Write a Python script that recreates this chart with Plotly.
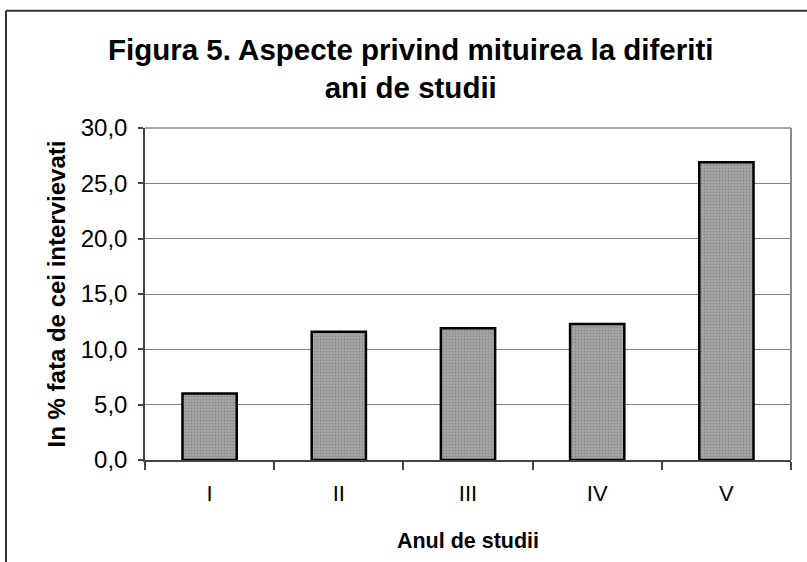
import plotly.graph_objects as go

categories = ["I", "II", "III", "IV", "V"]
values = [6.0, 11.6, 11.9, 12.3, 26.9]
y_ticks = [0, 5, 10, 15, 20, 25, 30]

title_text = "<b>Figura 5. Aspecte privind mituirea la diferiti<br>ani de studii</b>"
x_title = "<b>Anul de studii</b>"
y_title = "<b>In % fata de cei intervievati</b>"

FONT = "Liberation Sans, Arial, sans-serif"

fig = go.Figure()
fig.add_trace(go.Bar(
    x=categories, y=values, width=0.42,
    marker=dict(
        color="#a4a4a4",
        line=dict(color="black", width=2.5),
        pattern=dict(shape=".", fgcolor="#6a6a6a", bgcolor="#a8a8a8", size=3, solidity=0.35),
    ),
))

fig.update_layout(
    width=807, height=562,
    margin=dict(l=145, r=16, t=127.5, b=102),
    paper_bgcolor="white", plot_bgcolor="white",
    separators=", ",
    showlegend=False,
    font=dict(family=FONT, color="black"),
    title=dict(text=title_text, x=0.509, xref="container", xanchor="center",
               y=0.894, yref="container", yanchor="middle",
               font=dict(size=29.5, family=FONT, color="black")),
)

fig.update_xaxes(
    type="category", tickson="boundaries", ticks="outside", ticklen=8, tickcolor="#444",
    tickwidth=1.5, showline=True, linecolor="#444", linewidth=1.5, mirror=False,
    tickfont=dict(size=22, family=FONT), ticklabelstandoff=13,
    title=dict(text=x_title, font=dict(size=21.5, family=FONT), standoff=28),
    showgrid=False, zeroline=False,
)
fig.update_yaxes(
    range=[0, 30], tickvals=y_ticks, tickformat=".1f", ticks="outside", ticklen=5,
    tickcolor="#444", tickwidth=1.5, showline=True, linecolor="#444", linewidth=1.5,
    tickfont=dict(size=24, family=FONT), ticklabelstandoff=6,
    showgrid=True, gridcolor="#808080", gridwidth=1, zeroline=False,
    title=dict(text=y_title, font=dict(size=24, family=FONT), standoff=8),
)

# plot-area border (top & right, gray)
fig.add_shape(type="line", xref="paper", yref="paper", x0=1, x1=1, y0=0, y1=1,
              line=dict(color="#8a8a8a", width=2))
fig.add_shape(type="line", xref="paper", yref="paper", x0=0, x1=1, y0=1, y1=1,
              line=dict(color="#8a8a8a", width=1.5))
# outer chart frame (left & top visible)
fig.add_shape(type="line", xref="paper", yref="paper", x0=-0.2152, x1=1.2, y0=1.3534, y1=1.3534,
              line=dict(color="#333", width=2))
fig.add_shape(type="line", xref="paper", yref="paper", x0=-0.2152, x1=-0.2152, y0=1.3534, y1=-0.5,
              line=dict(color="#333", width=2))

fig.write_html(
    "out.html",
    config={"displayModeBar": False},
    post_script="document.body.style.margin='0';document.body.style.overflow='hidden';",
)
